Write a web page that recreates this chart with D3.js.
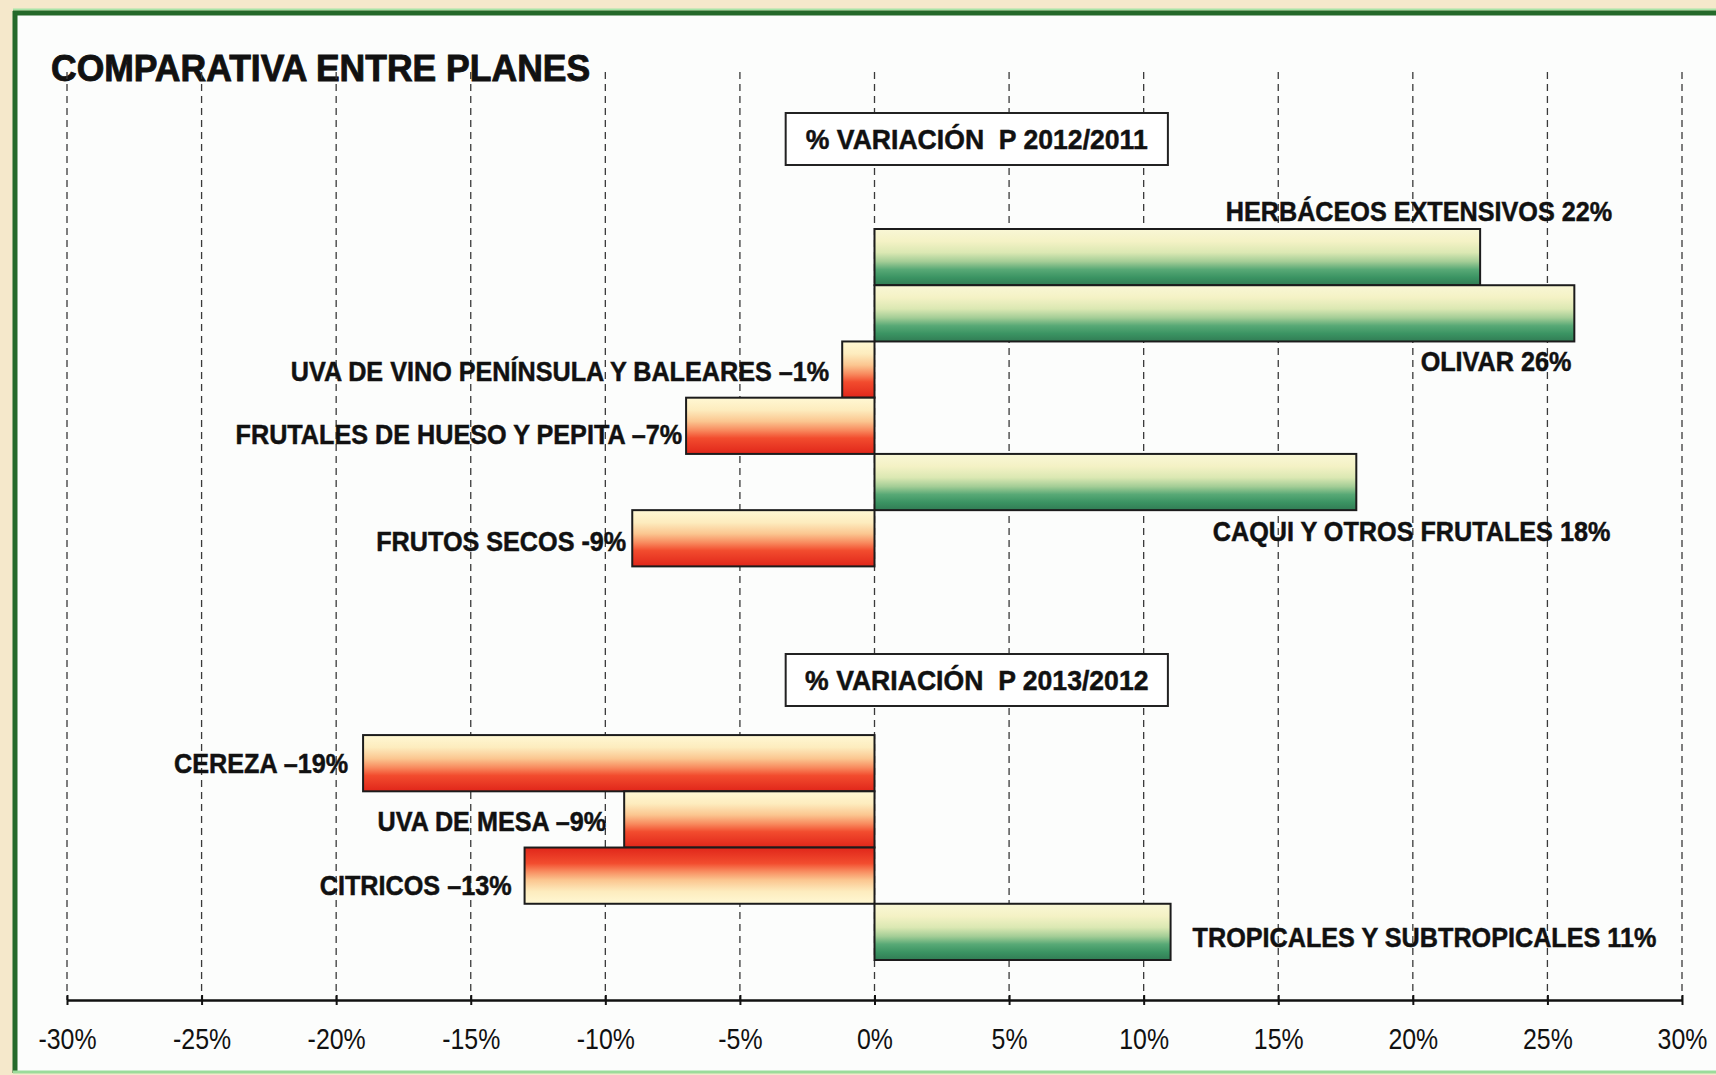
<!DOCTYPE html>
<html>
<head>
<meta charset="utf-8">
<script src="https://cdn.jsdelivr.net/npm/d3@7"></script>
<style>
  html, body { margin: 0; padding: 0; background: #f5e8cb; }
  svg { display: block; }
  text { font-family: "Liberation Sans", Arial, sans-serif; fill: #111; }
</style>
</head>
<body>
<div id="container"></div>
<script>
/* DATA */
const categories = [
  "HERBÁCEOS EXTENSIVOS", "OLIVAR", "UVA DE VINO PENÍNSULA Y BALEARES",
  "FRUTALES DE HUESO Y PEPITA", "CAQUI Y OTROS FRUTALES", "FRUTOS SECOS",
  "CEREZA", "UVA DE MESA", "CITRICOS", "TROPICALES Y SUBTROPICALES"
]
const values = [22.5, 26.0, -1.2, -7.0, 17.9, -9.0, -19.0, -9.3, -13.0, 11.0]
const valueLabels = ["22%", "26%", "–1%", "–7%", "18%", "-9%", "–19%", "–9%", "–13%", "11%"]
const periods = ["2012/2011", "2012/2011", "2012/2011", "2012/2011", "2012/2011", "2012/2011",
  "2013/2012", "2013/2012", "2013/2012", "2013/2012"]
const periodTitles = ["% VARIACIÓN  P 2012/2011", "% VARIACIÓN  P 2013/2012"]
const tickValues = [-30, -25, -20, -15, -10, -5, 0, 5, 10, 15, 20, 25, 30]
const chartTitle = "COMPARATIVA ENTRE PLANES"

/* CONSTANTS AND GLOBALS */
const width = 1716
const height = 1075
const margin = { top: 229, bottom: 75, left: 67, right: 34 }
const axisY = 1000

// where each bar's label sits, relative to the bar end / bar centre
const labelLayout = [
  { anchor: "end", dx: 132, dy: -46 },
  { anchor: "end", dx: -3, dy: 48 },
  { anchor: "end", dx: -13, dy: 1 },
  { anchor: "end", dx: -4, dy: 8 },
  { anchor: "end", dx: 254, dy: 49 },
  { anchor: "end", dx: -6, dy: 3 },
  { anchor: "end", dx: -15, dy: 0 },
  { anchor: "end", dx: -18, dy: 1 },
  { anchor: "end", dx: -13, dy: 9 },
  { anchor: "start", dx: 22, dy: 5 }
]
const flipGradient = ["CITRICOS"]

// rows: first plan, three empty rows, second plan
const rows = []
categories.forEach((c, i) => {
  if (i > 0 && periods[i] !== periods[i - 1]) rows.push("_gap1", "_gap2", "_gap3")
  rows.push(c)
})

/* SCALES */
const xScale = d3.scaleLinear()
  .domain([-30, 30])
  .range([margin.left, width - margin.right])

const yScale = d3.scaleBand()
  .domain(rows)
  .range([margin.top, 960])
  .paddingInner(0)

/* HTML ELEMENTS */
const svg = d3.select("#container")
  .append("svg")
  .attr("width", width)
  .attr("height", height)

const defs = svg.append("defs")

function addGradient(id, stops, flip) {
  const g = defs.append("linearGradient")
    .attr("id", id)
    .attr("x1", 0).attr("x2", 0)
    .attr("y1", flip ? 1 : 0).attr("y2", flip ? 0 : 1)
  stops.forEach(s => g.append("stop").attr("offset", s[0]).attr("stop-color", s[1]))
}
const greenStops = [[0, "#f9f7d6"], [0.22, "#f4f2c5"], [0.42, "#dbe8b3"], [0.58, "#a3cd96"], [0.72, "#58a976"], [0.86, "#3b9463"], [1, "#317c54"]]
const redStops = [[0, "#fff8d4"], [0.22, "#fdecbe"], [0.42, "#fbc690"], [0.58, "#f88a5e"], [0.72, "#f24c2e"], [1, "#e0261a"]]
addGradient("gGreen", greenStops, false)
addGradient("gRed", redStops, false)
addGradient("gRedFlip", redStops, true)

// frame
svg.append("rect")
  .attr("x", 13).attr("y", 13)
  .attr("width", width).attr("height", 1059)
  .attr("fill", "#fcfdfc")
svg.append("line")
  .attr("x1", 13).attr("x2", width).attr("y1", 9.5).attr("y2", 9.5)
  .attr("stroke", "#a8e4a8").attr("stroke-width", 2)
svg.append("line")
  .attr("x1", 13).attr("x2", width).attr("y1", 13).attr("y2", 13)
  .attr("stroke", "#25692a").attr("stroke-width", 5)
svg.append("line")
  .attr("x1", 15).attr("x2", 15).attr("y1", 11).attr("y2", 1073)
  .attr("stroke", "#25692a").attr("stroke-width", 5)
svg.append("line")
  .attr("x1", 13).attr("x2", width).attr("y1", 1072).attr("y2", 1072)
  .attr("stroke", "#9bdc9b").attr("stroke-width", 3)

// title
svg.append("text")
  .attr("transform", "translate(51,81) scale(0.96,1)")
  .attr("font-size", 37)
  .attr("font-weight", "bold")
  .attr("stroke", "#111").attr("stroke-width", 0.9)
  .text(chartTitle)

// gridlines
svg.append("g")
  .selectAll("line")
  .data(tickValues)
  .join("line")
  .attr("x1", d => xScale(d)).attr("x2", d => xScale(d))
  .attr("y1", 72).attr("y2", axisY)
  .attr("stroke", "#3a3a3a")
  .attr("stroke-width", 1.3)
  .attr("stroke-dasharray", "7,5")

// axis
const xAxis = d3.axisBottom(xScale)
  .tickValues(tickValues)
  .tickFormat(d => d + "%")
  .tickSizeInner(4)
  .tickSizeOuter(0)
const axisG = svg.append("g")
  .attr("transform", `translate(0,${axisY})`)
  .call(xAxis)
axisG.select(".domain").attr("stroke", "#111").attr("stroke-width", 2.5)
axisG.selectAll(".tick line").attr("y1", -5).attr("y2", 5).attr("stroke", "#111").attr("stroke-width", 2)
axisG.selectAll(".tick text")
  .attr("font-family", "Liberation Sans, Arial, sans-serif")
  .attr("font-size", 30)
  .attr("fill", "#222")
  .attr("y", 28)
  .attr("transform", "scale(0.83,1)")

// period boxes
const boxX = xScale(-3.3)
const boxW = xScale(10.9) - xScale(-3.3)
const boxYs = [113, 654]
periodTitles.forEach((t, i) => {
  const g = svg.append("g").attr("transform", `translate(${boxX},${boxYs[i]})`)
  g.append("rect")
    .attr("width", boxW).attr("height", 52)
    .attr("fill", "#fff")
    .attr("stroke", "#222").attr("stroke-width", 2)
  g.append("text")
    .attr("transform", `translate(${boxW / 2},26) scale(0.95,1)`)
    .attr("text-anchor", "middle")
    .attr("dy", "0.36em")
    .attr("font-size", 28)
    .attr("font-weight", "bold")
    .attr("stroke", "#111").attr("stroke-width", 0.5)
    .style("white-space", "pre")
    .text(t)
})

// bars
const bars = categories.map((c, i) => ({ cat: c, value: values[i], label: c + " " + valueLabels[i], layout: labelLayout[i] }))

svg.append("g")
  .selectAll("rect")
  .data(bars)
  .join("rect")
  .attr("x", d => xScale(Math.min(0, d.value)))
  .attr("y", d => yScale(d.cat))
  .attr("width", d => Math.abs(xScale(d.value) - xScale(0)))
  .attr("height", yScale.bandwidth())
  .attr("fill", d => d.value >= 0 ? "url(#gGreen)" : (flipGradient.includes(d.cat) ? "url(#gRedFlip)" : "url(#gRed)"))
  .attr("stroke", "#1c1c1c")
  .attr("stroke-width", 2)

// bar labels
svg.append("g")
  .selectAll("text")
  .data(bars)
  .join("text")
  .attr("transform", d => {
    const x = xScale(d.value) + d.layout.dx
    const y = yScale(d.cat) + yScale.bandwidth() / 2 + d.layout.dy
    return `translate(${x},${y}) scale(0.9,1)`
  })
  .attr("text-anchor", d => d.layout.anchor)
  .attr("dy", "0.36em")
  .attr("font-size", 28)
  .attr("font-weight", "bold")
  .attr("stroke", "#111").attr("stroke-width", 0.5)
  .text(d => d.label)
</script>
</body>
</html>
